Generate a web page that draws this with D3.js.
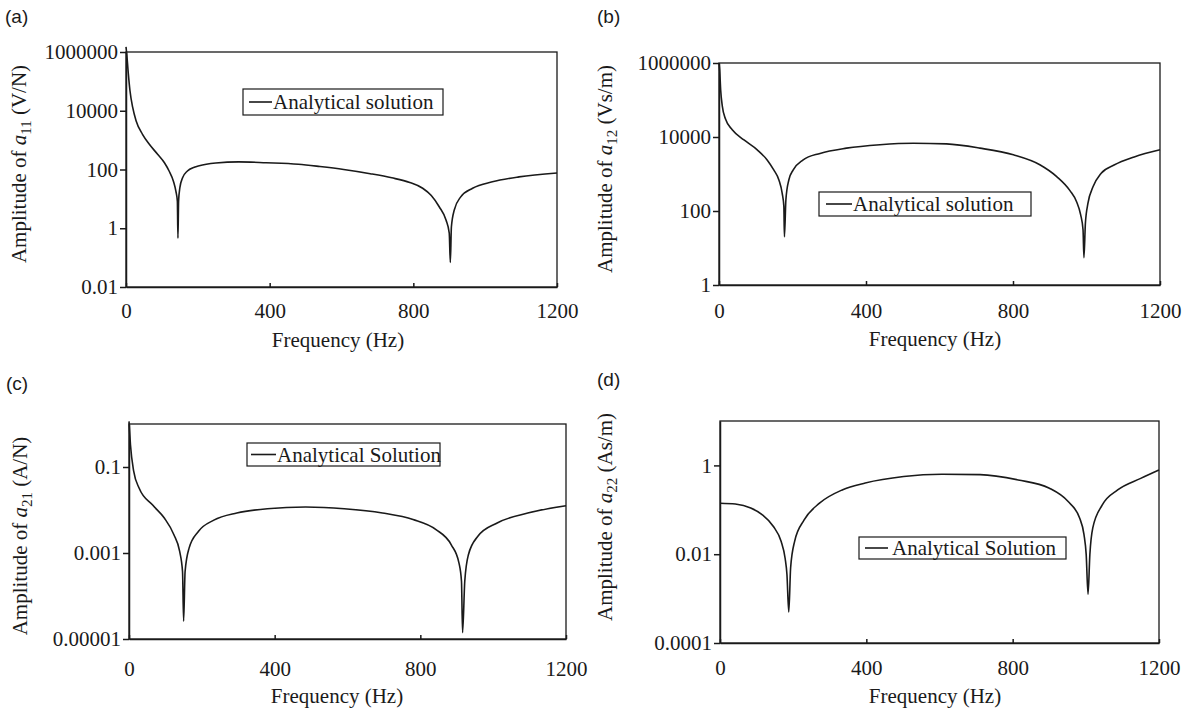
<!DOCTYPE html>
<meta charset="utf-8">
<style>
body { margin: 0; background: #fff; }
svg text { font-family: "Liberation Serif", "Times New Roman", serif; fill: #1a1a1a; }
.axis path, .axis line { fill: none; stroke: #1a1a1a; stroke-width: 1.5px; }
.axis text { font-size: 21px; }
.frame { fill: none; stroke: #1a1a1a; stroke-width: 1.3px; }
.curve { fill: none; stroke: #1a1a1a; stroke-width: 1.6px; }
.panel-label { font-family: "Liberation Sans", Arial, sans-serif !important; font-size: 19px; }
</style>
<body>
<script src="https://cdnjs.cloudflare.com/ajax/libs/d3/7.8.5/d3.min.js"></script>
<script>

// values
var xTicks = [0, 400, 800, 1200];

// (a) a11 (V/N)
var freqA = [0, 2, 6.5, 11, 18.5, 28, 46, 65, 88, 107, 120, 132, 139, 143, 144.6, 146.4, 150, 157.5, 171, 190, 204, 250, 314, 390, 480, 540, 606, 680, 740, 790, 826, 850, 872, 891, 900, 903, 906, 914, 932, 965, 1020, 1094, 1200];
var ampA  = [1.5e6, 8.7e5, 1.8e5, 4.9e4, 1.32e4, 4600, 1580, 720, 330, 170, 89, 40, 18, 8.3, 0.46, 8.3, 24, 52, 89, 120, 135, 166, 182, 170, 151, 126, 100, 72, 52, 36, 23, 13, 5.4, 1.9, 0.68, 0.068, 1.12, 4.2, 11.7, 23, 38, 56, 76];
var yTicksA = [0.01, 1, 100, 10000, 1000000];
var yLabelsA = ["0.01", "1", "100", "10000", "1000000"];

// (b) a12 (Vs/m)
var freqB = [0, 1.8, 4.5, 9, 18, 36, 68, 104, 131, 149, 163, 172, 176.5, 178, 182, 190, 202, 229, 275, 347, 438, 529, 619, 710, 801, 873, 919, 955, 973, 984, 990.6, 993, 997, 1004, 1018, 1040, 1075, 1130, 1200];
var ampB  = [1e6, 6.6e5, 1.9e5, 6.8e4, 3.0e4, 1.58e4, 8300, 4500, 2400, 1290, 690, 300, 132, 20, 200, 690, 1290, 2400, 3600, 5000, 6200, 6800, 6500, 5000, 3300, 1780, 850, 355, 178, 80, 31, 5.5, 47, 162, 457, 1050, 1750, 2900, 4500];
var yTicksB = [1, 100, 10000, 1000000];
var yLabelsB = ["1", "100", "10000", "1000000"];

// (c) a21 (A/N)
var freqC = [0, 4, 13, 28, 65, 97, 123, 139, 147, 150, 154, 165, 191, 233, 296, 380, 485, 591, 696, 780, 843, 885, 906, 913, 916, 922, 932, 958, 1011, 1095, 1200];
var ampC  = [1.15, 0.33, 0.079, 0.032, 0.013, 0.0065, 0.0027, 0.0011, 3.7e-4, 2.6e-5, 3.7e-4, 0.0013, 0.0032, 0.0058, 0.0085, 0.0107, 0.0117, 0.0107, 0.0085, 0.006, 0.0035, 0.00155, 5.9e-4, 2.2e-4, 1.4e-5, 2.2e-4, 9.1e-4, 0.00245, 0.005, 0.0085, 0.0126];
var yTicksC = [0.00001, 0.001, 0.1];
var yLabelsC = ["0.00001", "0.001", "0.1"];

// (d) a22 (As/m)
var freqD = [0, 42, 84, 115, 146, 167, 178, 183, 188, 193, 204, 230, 272, 334, 397, 502, 606, 711, 815, 899, 951, 983, 995, 1001, 1006, 1011, 1019, 1045, 1087, 1150, 1200];
var ampD  = [0.141, 0.135, 0.11, 0.078, 0.042, 0.0195, 0.0081, 0.0035, 5.0e-4, 0.0049, 0.0195, 0.059, 0.141, 0.28, 0.4, 0.56, 0.63, 0.62, 0.47, 0.31, 0.155, 0.065, 0.0275, 0.0098, 0.00126, 0.0098, 0.039, 0.129, 0.28, 0.51, 0.79];
var yTicksD = [0.0001, 0.01, 1];
var yLabelsD = ["0.0001", "0.01", "1"];

var svg = d3.select("body").append("svg")
    .attr("width", 1194)
    .attr("height", 710);

var panels = [
  {label: "(a)", lx: 5, ly: 23, left: 126, right: 557, top: 52, bottom: 287, domain: [0.01, 1e6],
   freq: freqA, amp: ampA, ticks: yTicksA, labels: yLabelsA, sub: "11", unit: " (V/N)",
   ytx: 26, yty: 164, xtx: 338, xpad: 16, xty: 347,
   leg: {x: 243, y: 89, w: 200, h: 26, text: "Analytical solution", l0: 6, l1: 29, tx: 30}},
  {label: "(b)", lx: 597, ly: 23, left: 719, right: 1160, top: 63, bottom: 285, domain: [1, 1e6],
   freq: freqB, amp: ampB, ticks: yTicksB, labels: yLabelsB, sub: "12", unit: " (Vs/m)",
   ytx: 612, yty: 169, xtx: 935, xpad: 18, xty: 346,
   leg: {x: 819, y: 192, w: 212, h: 24, text: "Analytical solution", l0: 7, l1: 33, tx: 34}},
  {label: "(c)", lx: 6, ly: 390, left: 129, right: 566, top: 424, bottom: 639, domain: [1e-5, 1],
   freq: freqC, amp: ampC, ticks: yTicksC, labels: yLabelsC, sub: "21", unit: " (A/N)",
   ytx: 27, yty: 536, xtx: 337, xpad: 22, xty: 703,
   leg: {x: 247, y: 443, w: 193, h: 23, text: "Analytical Solution", l0: 4, l1: 29, tx: 30}},
  {label: "(d)", lx: 597, ly: 386, left: 720, right: 1159, top: 421, bottom: 643, domain: [1e-4, 10],
   freq: freqD, amp: ampD, ticks: yTicksD, labels: yLabelsD, sub: "22", unit: " (As/m)",
   ytx: 612, yty: 517, xtx: 935, xpad: 17, xty: 703,
   leg: {x: 859, y: 537, w: 207, h: 22, text: "Analytical Solution", l0: 6, l1: 29, tx: 33}}
];

panels.forEach(function(p) {
  var x = d3.scaleLinear().domain([0, 1200]).range([p.left, p.right]);
  var y = d3.scaleLog().domain(p.domain).range([p.bottom, p.top]);

  svg.append("text")
      .attr("class", "panel-label")
      .attr("x", p.lx)
      .attr("y", p.ly)
      .text(p.label);

  // plot frame
  svg.append("rect")
      .attr("class", "frame")
      .attr("x", p.left)
      .attr("y", p.top)
      .attr("width", p.right - p.left)
      .attr("height", p.bottom - p.top);

  svg.append("g")
      .attr("class", "axis")
      .attr("transform", "translate(0," + p.bottom + ")")
      .call(d3.axisBottom(x).tickValues(xTicks).tickFormat(d3.format("d"))
        .tickSizeInner(-4).tickSizeOuter(0).tickPadding(p.xpad));

  svg.append("g")
      .attr("class", "axis")
      .attr("transform", "translate(" + p.left + ",0)")
      .call(d3.axisLeft(y).tickValues(p.ticks)
        .tickFormat(function(d, i) { return p.labels[i]; })
        .tickSizeInner(6).tickSizeOuter(0).tickPadding(2));

  var line = d3.line()
      .curve(d3.curveMonotoneX)
      .x(function(d) { return x(d[0]); })
      .y(function(d) { return y(d[1]); });

  svg.append("path")
      .datum(d3.zip(p.freq, p.amp))
      .attr("class", "curve")
      .attr("d", line);

  // axis titles
  svg.append("text")
      .attr("x", p.xtx)
      .attr("y", p.xty)
      .attr("text-anchor", "middle")
      .style("font-size", "21px")
      .text("Frequency (Hz)");

  var yt = svg.append("text")
      .attr("transform", "translate(" + p.ytx + "," + p.yty + ") rotate(-90)")
      .attr("text-anchor", "middle")
      .style("font-size", "21px");
  yt.append("tspan").text("Amplitude of ");
  yt.append("tspan").style("font-style", "italic").text("a");
  yt.append("tspan").attr("dy", 5).style("font-size", "15px").text(p.sub);
  yt.append("tspan").attr("dy", -5).text(p.unit);

  // legend
  var lg = svg.append("g").attr("transform", "translate(" + p.leg.x + "," + p.leg.y + ")");
  lg.append("rect")
      .attr("width", p.leg.w)
      .attr("height", p.leg.h)
      .attr("fill", "#fff")
      .attr("stroke", "#1a1a1a")
      .attr("stroke-width", 1.2);
  lg.append("line")
      .attr("x1", p.leg.l0).attr("x2", p.leg.l1)
      .attr("y1", p.leg.h / 2).attr("y2", p.leg.h / 2)
      .attr("stroke", "#1a1a1a")
      .attr("stroke-width", 1.6);
  lg.append("text")
      .attr("x", p.leg.tx)
      .attr("y", p.leg.h / 2 + 7)
      .style("font-size", "21px")
      .text(p.leg.text);
});

</script>
